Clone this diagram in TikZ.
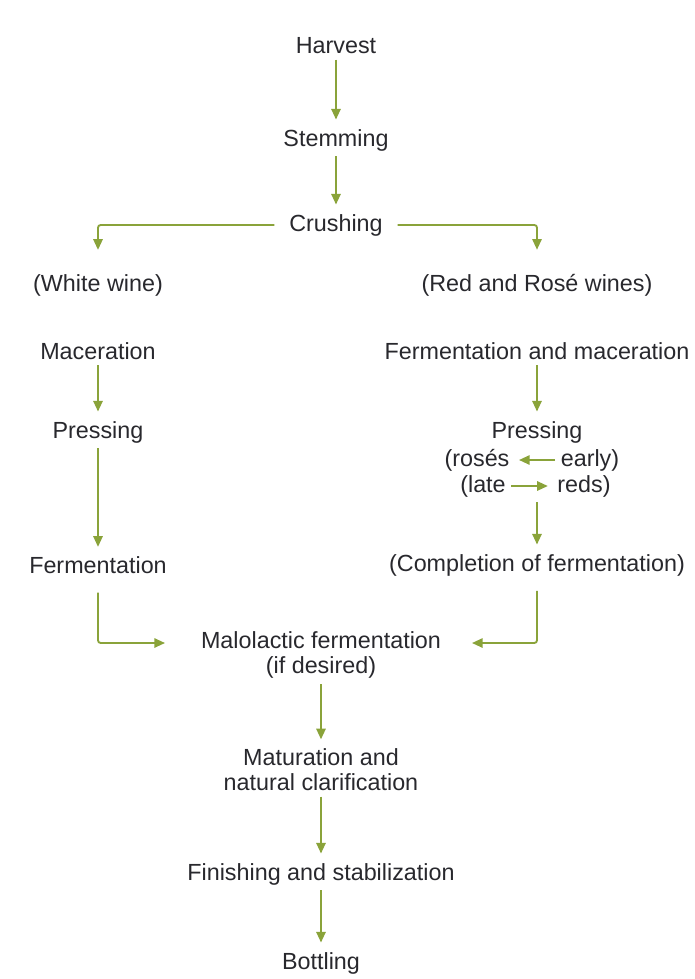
\documentclass[tikz,border=0pt]{standalone}
\usepackage{fontspec}
\setmainfont{Liberation Sans}
\usetikzlibrary{arrows.meta}
\definecolor{vine}{RGB}{138,163,58}
\definecolor{ink}{RGB}{40,40,45}

\begin{document}
\begin{tikzpicture}[x=0.75pt,y=0.75pt,yscale=-1,
  lbl/.style={text=ink,font=\fontsize{17.5}{18.8}\selectfont,inner sep=4pt,align=center},
  flow/.style={draw=vine,line width=1.4pt,rounded corners=2pt,-{Triangle[length=8pt,width=7pt]},shorten >=3pt}]
\useasboundingbox (0,0) rectangle (694,979);

% Text Node
\draw (336,46) node [lbl] (harvest) {Harvest};
% Text Node
\draw (336,140) node [lbl] (stem) {Stemming};
% Text Node
\draw (336,225) node [lbl,inner xsep=11pt] (crush) {Crushing};
% Text Node
\draw (98,285) node [lbl] (white) {(White wine)};
% Text Node
\draw (537,285) node [lbl] (red) {(Red and Rosé wines)};
% Text Node
\draw (98,351) node [lbl] (macL) {Maceration};
% Text Node
\draw (537,351) node [lbl] (fermmac) {Fermentation and maceration};
% Text Node
\draw (98,432) node [lbl] (pressL) {Pressing};
% Text Node
\draw (537,432) node [lbl] (pressR) {Pressing};
% Text Node
\draw (477,460) node [lbl] (roses) {(rosés};
% Text Node
\draw (590,460) node [lbl] (early) {early)};
% Text Node
\draw (483,486) node [lbl] (late) {(late};
% Text Node
\draw (584,486) node [lbl] (reds) {reds)};
% Text Node
\draw (98,565) node [lbl] (fermL) {Fermentation};
% Text Node
\draw (537,565) node [lbl] (complete) {(Completion of fermentation)};
% Text Node
\draw (321,655) node [lbl] (malo) {Malolactic fermentation\\(if desired)};
% Text Node
\draw (321,770) node [lbl] (matur) {Maturation and\\natural clarification};
% Text Node
\draw (321,874) node [lbl] (finish) {Finishing and stabilization};
% Text Node
\draw (321,963) node [lbl] (bottle) {Bottling};

\coordinate (intoL) at (165,643);
\coordinate (intoR) at (472,643);

%Straight Lines
\draw [flow] (harvest) -- (stem);
\draw [flow] (stem) -- (crush);
\draw [flow,shorten >=14pt] (crush.west) -| (white);
\draw [flow,shorten >=14pt] (crush.east) -| (red);
\draw [flow] (macL) -- (pressL);
\draw [flow] (fermmac) -- (pressR);
\draw [flow] (early) -- (roses);
\draw [flow] (late) -- (reds);
\draw [flow] (pressL) -- (fermL);
\draw [flow] (pressR |- late.south) -- (complete);
\draw [flow,shorten <=10pt,shorten >=0pt] (fermL) |- (intoL);
\draw [flow,shorten <=7pt,shorten >=0pt] (complete) |- (intoR);
\draw [flow] (malo) -- (matur);
\draw [flow] (matur) -- (finish);
\draw [flow] (finish) -- (bottle);

\end{tikzpicture}
\end{document}
